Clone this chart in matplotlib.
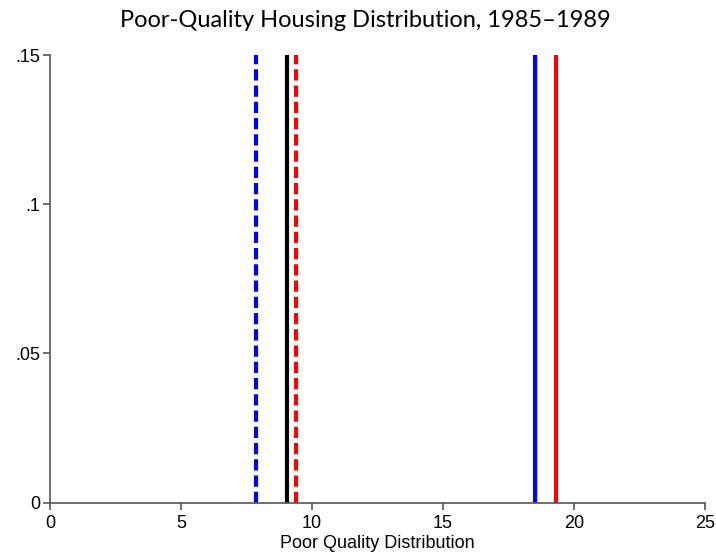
import matplotlib
matplotlib.use("Agg")
import matplotlib.pyplot as plt

plt.rcParams["font.family"] = ["Liberation Sans", "DejaVu Sans"]

# reference lines (x positions)
line_x = [7.86, 9.05, 9.38, 18.51, 19.30]
line_colors = ["blue", "black", "red", "blue", "red"]
line_dashed = [True, False, True, False, False]

x_ticks = [0, 5, 10, 15, 20, 25]
y_ticks = [0, 0.05, 0.10, 0.15]
y_labels = ["0", ".05", ".1", ".15"]

title = "Poor-Quality Housing Distribution, 1985\u20131989"
xlabel = "Poor Quality Distribution"

fig = plt.figure(figsize=(7.16, 5.54), dpi=100)
ax = fig.add_axes([0.0698, 0.0926, 0.9148, 0.8081])

for x, c, d in zip(line_x, line_colors, line_dashed):
    ln = ax.vlines(x, 0, 0.15, color=c, linewidth=3)
    if d:
        ln.set_linestyle((0, (2.7, 1.2)))

ax.set_xlim(0, 25)
ax.set_ylim(0, 0.15)
ax.set_xticks(x_ticks)
ax.set_xticklabels([str(t) for t in x_ticks])
ax.set_yticks(y_ticks)
ax.set_yticklabels(y_labels)

for s in ["top", "right"]:
    ax.spines[s].set_visible(False)
for s in ["left", "bottom"]:
    ax.spines[s].set_color("#555555")
    ax.spines[s].set_linewidth(1.2)

ax.tick_params(direction="out", length=5, width=1.2, color="#555555",
               labelsize=13, labelcolor="black")
ax.tick_params(axis="x", pad=4)
ax.tick_params(axis="y", pad=2)

ax.set_xlabel(xlabel, fontsize=13, labelpad=2)
fig.suptitle(title, x=0.51, y=0.982, fontsize=17, family="Lato")

fig.savefig("out.png", dpi=100)
